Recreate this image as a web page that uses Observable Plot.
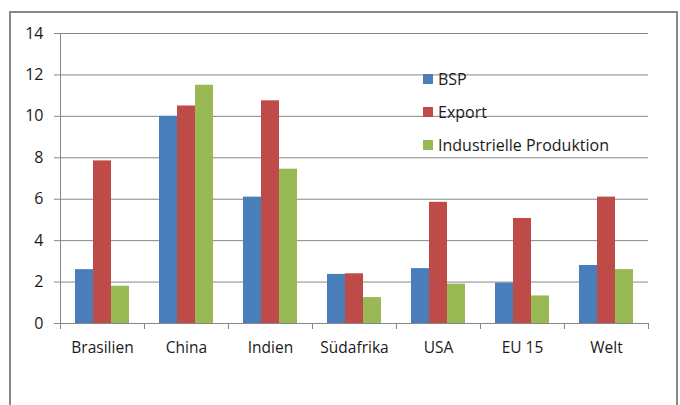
<!DOCTYPE html>
<html>
<head>
<meta charset="utf-8">
<script src="https://cdn.jsdelivr.net/npm/d3@7"></script>
<script src="https://cdn.jsdelivr.net/npm/@observablehq/plot@0.6"></script>
<style>
  html, body { margin: 0; padding: 0; background: #fff; }
  #wrap { position: relative; width: 680px; height: 405px; overflow: hidden; font-family: "Open Sans", sans-serif; }
  #border { position: absolute; left: 9px; top: 11px; width: 665px; height: 430px; border: 2px solid #878787; box-sizing: content-box; }
  #chart { position: absolute; left: 0; top: 0; }
  #legend { position: absolute; left: 423px; top: 62px; font-size: 16px; color: #1a1a1a; }
  .row { height: 33.4px; display: flex; align-items: center; white-space: nowrap; }
  .sw { width: 10px; height: 10px; margin-right: 5px; display: inline-block; }
</style>
</head>
<body>
<div id="wrap">
  <div id="border"></div>
  <div id="chart"></div>
  <div id="legend"></div>
</div>
<script>
const categories = ["Brasilien", "China", "Indien", "Südafrika", "USA", "EU 15", "Welt"];
const series = ["BSP", "Export", "Industrielle Produktion"];
const colors = ["#4a7ebb", "#be4b48", "#98b954"];
const bsp = [2.6, 10.0, 6.1, 2.37, 2.65, 1.95, 2.8];
const exportVals = [7.85, 10.5, 10.75, 2.4, 5.85, 5.07, 6.1];
const industrie = [1.8, 11.5, 7.45, 1.25, 1.9, 1.33, 2.6];
const yTicks = [0, 2, 4, 6, 8, 10, 12, 14];

const valuesBySeries = [bsp, exportVals, industrie];
const data = [];
categories.forEach((c, i) => {
  series.forEach((s, j) => data.push({cat: c, series: s, value: valuesBySeries[j][i]}));
});

const axisGray = "#868686";

const plot = Plot.plot({
  width: 680,
  height: 405,
  marginLeft: 58,
  marginRight: 30,
  marginTop: 33,
  marginBottom: 82,
  style: {fontFamily: "'Open Sans', sans-serif", fontSize: "15px", color: "#1a1a1a", background: "transparent"},
  fx: {domain: categories, padding: 0, label: null},
  x: {domain: series, paddingInner: 0, paddingOuter: 0.78, axis: null},
  y: {domain: [0, 14], ticks: yTicks, label: null, axis: null},
  color: {domain: series, range: colors},
  marks: [
    Plot.gridY(yTicks, {stroke: axisGray, strokeOpacity: 1, strokeWidth: 1}),
    Plot.axisY(yTicks, {anchor: "left", tickSize: 6, tickPadding: 11, stroke: axisGray, strokeOpacity: 1, fontSize: 16, fill: "#1a1a1a", label: null, facetAnchor: "left"}),
    Plot.frame({anchor: "left", stroke: axisGray, facetAnchor: "left"}),
    Plot.barY(data, {fx: "cat", x: "series", y: "value", fill: "series"}),
    Plot.ruleY([0], {stroke: axisGray}),
    Plot.frame({anchor: "left", stroke: axisGray, insetTop: 290, insetBottom: -5}),
    Plot.frame({anchor: "right", stroke: axisGray, insetTop: 290, insetBottom: -5}),
    Plot.axisFx({anchor: "bottom", tickSize: 0, tickPadding: 18, fontSize: 15.5, fill: "#1a1a1a", label: null})
  ]
});
document.getElementById("chart").appendChild(plot);

const legend = document.getElementById("legend");
series.forEach((s, j) => {
  const row = document.createElement("div");
  row.className = "row";
  const sw = document.createElement("span");
  sw.className = "sw";
  sw.style.background = colors[j];
  const t = document.createElement("span");
  t.textContent = s;
  row.appendChild(sw);
  row.appendChild(t);
  legend.appendChild(row);
});
</script>
</body>
</html>
